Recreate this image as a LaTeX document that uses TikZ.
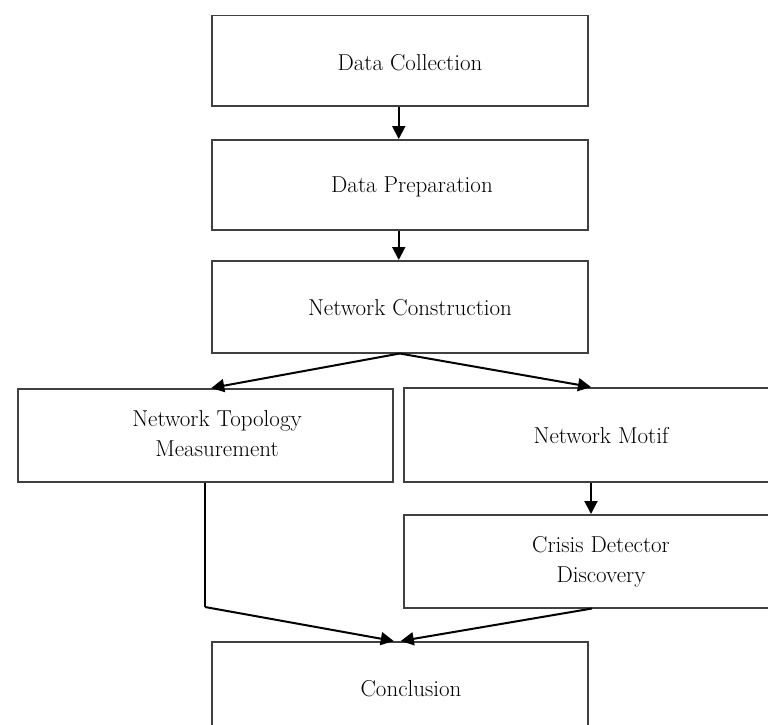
\documentclass[tikz,border=0pt]{standalone}
\usetikzlibrary{arrows.meta,calc}
\begin{document}
\begin{tikzpicture}[x=1pt,y=-1pt,
  box/.style={draw=black!75,line width=1.5pt,inner sep=0pt,anchor=north west,fill=white},
  txt/.style={font=\fontsize{23}{30}\selectfont,align=center,inner sep=0pt},
  arr/.style={line width=2pt,-{Triangle[length=13pt,width=13pt]}},
  ln/.style={line width=2pt}]
\useasboundingbox (0,0) rectangle (768,725);
\clip (0,0) rectangle (768,725);
\fill[white] (0,0) rectangle (768,725);
% boxes
\node[box,minimum width=376pt,minimum height=90pt] (dc) at (211,15) {};
\node[box,minimum width=376pt,minimum height=90pt] (dp) at (211,139) {};
\node[box,minimum width=376pt,minimum height=92pt] (nc) at (211,260) {};
\node[box,minimum width=375pt,minimum height=93pt] (nt) at (17,388) {};
\node[box,minimum width=380pt,minimum height=94pt] (nm) at (403,387) {};
\node[box,minimum width=380pt,minimum height=93pt] (cd) at (403,514) {};
\node[box,minimum width=376pt,minimum height=100pt] (cc) at (211,641) {};
% texts
\node[txt] (tdc) at (410,63) {Data Collection};
\node[txt] (tdp) at (412,187) {Data Preparation};
\node[txt] (tnc) at (410,308) {Network Construction};
\node[txt] (tnt) at (217,434) {Network Topology\\Measurement};
\node[txt] (tnm) at (601,436) {Network Motif};
\node[txt] (tcd) at (601,562) {Crisis Detector\\Discovery};
\node[txt] (tcc) at (411,689) {Conclusion};
% connectors
\draw[arr] ([xshift=-1pt]dc.south) -- ([xshift=-1pt]dp.north);
\draw[arr] ([xshift=-1pt]dp.south) -- ([xshift=-1pt]nc.north);
\draw[arr] (nc.south) -- ($(nt.north)+(6,0)$);
\draw[arr] (nc.south) -- (nm.north west -| 591,0);
\draw[arr] (nm.south west -| 591,0) -- (cd.north west -| 591,0);
\coordinate (jl) at (205,607);
\draw[ln] (nt.south -| jl) -- (jl);
\draw[arr] (jl) -- ($(cc.north)+(-6,0)$);
\draw[arr] (cd.south west -| 592,0) -- ($(cc.north)+(1,0)$);
\end{tikzpicture}
\end{document}
